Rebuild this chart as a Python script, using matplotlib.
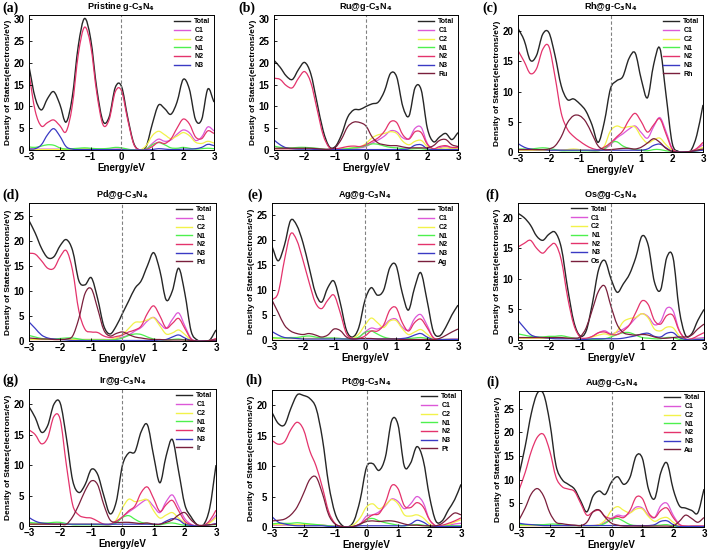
import numpy as np
import matplotlib.pyplot as plt
from matplotlib.path import Path
from matplotlib.patches import PathPatch
from matplotlib.lines import Line2D

plt.rcParams['font.family'] = ['Liberation Sans', 'DejaVu Sans']
plt.rcParams['font.weight'] = 'bold'
plt.rcParams['axes.titleweight'] = 'bold'
plt.rcParams['axes.labelweight'] = 'bold'
plt.rcParams['mathtext.default'] = 'bf'

# energy grid (eV)
E = np.round(np.linspace(-3, 3, 31), 1)

# (a) pristine g-C3N4
tot_a = [19.2, 12.0, 9.2, 11.8, 13.4, 10.5, 6.4, 12.0, 24.0, 30.2, 25.5, 14.0, 6.6, 7.6, 14.4, 14.6, 7.5, 1.5, 0.0, 0.8, 6.0, 10.3, 9.5, 8.2, 11.0, 16.2, 14.0, 7.0, 7.0, 14.0, 11.0]
c1_a = [0.3, 0.2, 0.2, 0.2, 0.2, 0.2, 0.2, 0.2, 0.2, 0.3, 0.3, 0.2, 0.2, 0.2, 0.2, 0.2, 0.1, 0.0, 0.0, 0.2, 1.5, 2.5, 2.0, 2.3, 3.6, 4.6, 4.0, 2.2, 3.0, 5.3, 4.4]
c2_a = [0.2, 0.1, 0.1, 0.1, 0.1, 0.1, 0.1, 0.1, 0.2, 0.3, 0.3, 0.2, 0.1, 0.1, 0.1, 0.1, 0.0, 0.0, 0.0, 1.0, 3.3, 4.3, 3.5, 2.6, 3.2, 4.0, 3.3, 1.8, 1.5, 2.0, 1.6]
n1_a = [0.7, 0.6, 0.9, 1.2, 1.1, 0.5, 0.2, 0.3, 0.4, 0.5, 0.4, 0.3, 0.3, 0.4, 0.6, 0.5, 0.2, 0.0, 0.0, 0.2, 1.2, 1.7, 1.2, 0.5, 0.4, 0.6, 0.4, 0.2, 0.3, 0.4, 0.3]
n2_a = [17.5, 9.0, 5.5, 6.3, 6.9, 5.6, 4.2, 10.0, 22.0, 28.2, 24.0, 13.0, 5.8, 7.0, 13.4, 13.6, 7.0, 1.3, 0.0, 0.1, 0.8, 1.8, 1.5, 2.5, 5.0, 7.1, 6.0, 3.0, 2.6, 4.4, 3.8]
n3_a = [0.2, 0.3, 1.2, 3.5, 4.9, 3.2, 0.8, 0.2, 0.1, 0.1, 0.1, 0.1, 0.1, 0.1, 0.1, 0.1, 0.0, 0.0, 0.0, 0.0, 0.1, 0.3, 0.2, 0.1, 0.1, 0.2, 0.2, 0.3, 0.6, 1.3, 1.0]

# (b) Ru
tot_b = [20.6, 19.0, 17.0, 16.2, 18.5, 20.1, 17.5, 11.0, 4.5, 0.8, 0.8, 3.5, 7.5, 9.2, 9.3, 10.0, 10.6, 11.0, 13.5, 17.6, 16.8, 10.0, 7.8, 14.3, 13.8, 5.0, 1.9, 3.0, 3.8, 2.4, 4.0]
c1_b = [0.2, 0.2, 0.2, 0.2, 0.2, 0.2, 0.2, 0.2, 0.1, 0.1, 0.1, 0.2, 0.3, 0.4, 0.5, 0.8, 1.6, 2.3, 3.2, 4.4, 4.2, 2.8, 2.6, 5.0, 5.2, 1.5, 0.2, 0.5, 0.8, 0.4, 0.4]
c2_b = [0.3, 0.3, 0.3, 0.3, 0.3, 0.3, 0.3, 0.2, 0.1, 0.1, 0.1, 0.2, 0.4, 0.5, 0.7, 1.5, 2.8, 3.5, 3.8, 4.2, 3.8, 2.0, 1.2, 2.0, 2.2, 0.8, 0.2, 0.3, 0.5, 0.3, 0.3]
n1_b = [0.9, 0.6, 0.5, 0.5, 0.6, 0.6, 0.5, 0.4, 0.2, 0.1, 0.1, 0.2, 0.3, 0.5, 0.6, 1.0, 1.4, 1.3, 0.9, 0.6, 0.5, 0.3, 0.2, 0.3, 0.3, 0.1, 0.1, 0.1, 0.1, 0.1, 0.1]
n2_b = [16.5, 16.2, 14.8, 14.3, 16.5, 18.0, 15.5, 9.5, 3.5, 0.6, 0.3, 0.5, 0.8, 0.9, 0.8, 1.2, 2.0, 2.8, 4.3, 6.5, 6.3, 3.5, 2.5, 4.2, 4.0, 1.3, 0.3, 0.8, 1.0, 0.6, 0.6]
n3_b = [2.3, 1.2, 0.5, 0.3, 0.2, 0.2, 0.2, 0.1, 0.1, 0.1, 0.1, 0.1, 0.1, 0.1, 0.1, 0.1, 0.1, 0.1, 0.1, 0.1, 0.1, 0.1, 0.3, 1.1, 1.2, 0.3, 0.1, 0.1, 0.1, 0.1, 0.1]
m_b = [0.4, 0.4, 0.4, 0.4, 0.4, 0.4, 0.4, 0.3, 0.2, 0.2, 0.6, 2.5, 5.3, 6.4, 6.3, 5.5, 3.0, 1.6, 1.2, 1.0, 1.0, 0.7, 0.5, 0.5, 0.5, 0.5, 1.0, 2.2, 2.4, 1.2, 0.8]

# (c) Rh
tot_c = [20.5, 18.5, 15.2, 16.0, 19.5, 19.8, 16.0, 11.0, 8.7, 8.8, 8.0, 6.8, 4.5, 1.6, 5.0, 10.5, 11.8, 12.5, 15.5, 16.4, 12.0, 9.0, 14.5, 17.2, 9.5, 1.5, 0.1, 0.0, 0.2, 2.8, 7.8]
c1_c = [0.3, 0.3, 0.3, 0.3, 0.3, 0.3, 0.3, 0.3, 0.3, 0.3, 0.3, 0.3, 0.2, 0.2, 0.5, 1.2, 2.3, 3.0, 3.8, 4.3, 3.2, 2.3, 4.2, 5.7, 3.4, 0.6, 0.0, 0.0, 0.1, 0.5, 1.2]
c2_c = [0.3, 0.3, 0.3, 0.3, 0.3, 0.3, 0.3, 0.3, 0.4, 0.5, 0.4, 0.3, 0.3, 0.3, 1.0, 3.5, 4.3, 4.0, 4.2, 4.1, 2.5, 1.5, 2.0, 2.3, 1.2, 0.3, 0.0, 0.0, 0.1, 0.3, 0.8]
n1_c = [0.5, 0.5, 0.5, 0.6, 0.7, 0.6, 0.4, 0.2, 0.2, 0.2, 0.2, 0.2, 0.2, 0.2, 0.5, 1.5, 1.7, 1.0, 0.6, 0.4, 0.3, 0.2, 0.4, 0.4, 0.2, 0.1, 0.0, 0.0, 0.1, 0.2, 0.4]
n2_c = [16.8, 15.0, 13.0, 13.8, 17.0, 17.5, 12.5, 6.5, 3.8, 2.6, 1.8, 1.1, 0.6, 0.4, 0.8, 1.5, 2.5, 3.5, 5.3, 6.4, 5.0, 3.3, 4.5, 5.5, 3.0, 0.5, 0.0, 0.0, 0.1, 0.6, 1.6]
n3_c = [1.4, 0.8, 0.5, 0.4, 0.4, 0.3, 0.3, 0.3, 0.3, 0.3, 0.3, 0.3, 0.3, 0.3, 0.3, 0.3, 0.3, 0.3, 0.3, 0.3, 0.3, 0.5, 1.1, 1.3, 0.7, 0.1, 0.0, 0.0, 0.1, 0.2, 0.3]
m_c = [0.4, 0.4, 0.4, 0.4, 0.4, 0.5, 1.0, 2.5, 4.8, 6.0, 6.0, 5.0, 3.0, 1.0, 0.4, 0.4, 0.5, 0.6, 0.6, 0.5, 0.8, 1.5, 2.2, 1.6, 0.6, 0.1, 0.0, 0.0, 0.1, 0.3, 0.5]

# (d) Pd
tot_d = [24.0, 21.5, 18.5, 16.6, 16.8, 19.0, 20.2, 18.0, 12.0, 11.2, 12.6, 8.5, 3.0, 1.4, 3.0, 5.5, 8.0, 10.5, 12.0, 15.0, 17.6, 14.0, 8.2, 10.0, 14.5, 9.5, 2.0, 0.2, 0.0, 0.2, 2.2]
c1_d = [0.3, 0.3, 0.3, 0.3, 0.3, 0.3, 0.3, 0.3, 0.3, 0.3, 0.3, 0.3, 0.3, 0.3, 0.5, 0.8, 1.2, 2.0, 2.7, 4.0, 4.7, 3.5, 2.5, 4.3, 5.6, 3.0, 0.5, 0.0, 0.0, 0.1, 0.3]
c2_d = [0.3, 0.3, 0.3, 0.3, 0.3, 0.3, 0.3, 0.3, 0.3, 0.3, 0.3, 0.3, 0.3, 0.3, 0.6, 1.3, 2.5, 3.7, 3.8, 4.2, 4.6, 3.0, 1.4, 1.6, 2.2, 1.3, 0.2, 0.0, 0.0, 0.1, 0.2]
n1_d = [1.1, 0.8, 0.5, 0.4, 0.4, 0.5, 0.6, 0.6, 0.4, 0.2, 0.2, 0.2, 0.2, 0.2, 0.3, 0.6, 1.1, 1.4, 1.3, 0.8, 0.4, 0.2, 0.2, 0.3, 0.4, 0.2, 0.1, 0.0, 0.0, 0.1, 0.1]
n2_d = [17.5, 17.3, 16.0, 14.5, 14.5, 16.8, 18.0, 14.0, 6.0, 2.3, 1.8, 1.7, 1.0, 0.7, 0.9, 1.2, 1.8, 2.2, 3.0, 5.5, 7.0, 5.0, 2.6, 3.5, 4.5, 2.5, 0.4, 0.0, 0.0, 0.1, 0.5]
n3_d = [3.8, 2.5, 1.2, 0.6, 0.4, 0.3, 0.2, 0.1, 0.1, 0.1, 0.1, 0.1, 0.1, 0.1, 0.1, 0.1, 0.1, 0.1, 0.1, 0.1, 0.1, 0.2, 0.3, 0.8, 1.2, 0.6, 0.1, 0.0, 0.0, 0.1, 0.1]
m_d = [0.6, 0.5, 0.4, 0.4, 0.3, 0.3, 0.4, 1.0, 4.5, 9.5, 10.4, 6.5, 2.2, 1.0, 1.5, 1.8, 1.3, 0.8, 0.6, 0.4, 0.3, 0.3, 0.2, 0.2, 0.2, 0.2, 0.1, 0.0, 0.0, 0.1, 0.2]

# (e) Ag
tot_e = [18.8, 15.9, 19.0, 24.0, 23.0, 19.5, 14.5, 9.5, 7.6, 10.5, 11.8, 7.5, 2.0, 0.6, 2.5, 8.0, 10.5, 9.0, 10.0, 14.5, 15.0, 9.5, 6.0, 10.5, 13.5, 8.0, 1.8, 0.8, 2.5, 5.0, 7.0]
c1_e = [0.3, 0.3, 0.3, 0.3, 0.3, 0.3, 0.3, 0.3, 0.3, 0.3, 0.3, 0.3, 0.2, 0.2, 0.5, 1.6, 2.4, 2.2, 2.8, 4.0, 4.2, 2.6, 2.0, 4.3, 5.1, 3.0, 0.5, 0.1, 0.1, 0.2, 0.2]
c2_e = [0.3, 0.3, 0.3, 0.3, 0.3, 0.3, 0.3, 0.3, 0.3, 0.3, 0.3, 0.3, 0.2, 0.3, 1.2, 3.0, 4.4, 3.5, 2.5, 3.8, 3.9, 2.3, 1.1, 1.6, 2.1, 1.2, 0.2, 0.1, 0.1, 0.1, 0.1]
n1_e = [0.5, 0.4, 0.4, 0.5, 0.5, 0.7, 0.8, 0.6, 0.4, 0.4, 0.4, 0.3, 0.2, 0.2, 0.6, 1.5, 1.8, 1.2, 0.6, 0.3, 0.2, 0.2, 0.3, 0.4, 0.5, 0.3, 0.1, 0.1, 0.1, 0.1, 0.1]
n2_e = [8.0, 9.5, 16.0, 21.3, 20.0, 16.0, 11.5, 7.5, 6.3, 8.0, 9.0, 5.5, 1.3, 0.3, 0.3, 0.8, 1.8, 1.8, 3.0, 6.0, 6.5, 3.5, 1.8, 3.5, 4.2, 2.5, 0.5, 0.1, 0.1, 0.1, 0.1]
n3_e = [1.7, 1.0, 0.5, 0.4, 0.3, 0.2, 0.2, 0.2, 0.2, 0.2, 0.2, 0.2, 0.2, 0.2, 0.2, 0.2, 0.2, 0.2, 0.2, 0.2, 0.2, 0.3, 0.5, 1.0, 1.3, 0.6, 0.1, 0.1, 0.1, 0.1, 0.1]
m_e = [8.0, 5.5, 3.0, 1.8, 1.3, 1.1, 1.3, 1.0, 0.6, 1.0, 2.2, 1.9, 0.6, 0.2, 0.3, 0.3, 0.3, 0.2, 0.2, 0.2, 0.2, 0.1, 0.1, 0.1, 0.1, 0.1, 0.1, 0.3, 0.9, 1.6, 2.2]

# (f) Os
tot_f = [20.7, 20.0, 18.8, 17.0, 16.3, 17.3, 17.6, 15.0, 8.5, 3.0, 0.7, 1.5, 6.0, 11.5, 13.0, 10.0, 7.8, 9.2, 10.8, 13.5, 17.0, 15.5, 9.5, 8.2, 13.5, 13.5, 5.0, 0.8, 1.0, 3.2, 5.0]
c1_f = [0.3, 0.3, 0.3, 0.3, 0.3, 0.3, 0.3, 0.3, 0.3, 0.2, 0.1, 0.2, 0.6, 1.2, 1.5, 1.0, 1.3, 1.8, 2.5, 3.6, 4.3, 3.8, 2.5, 3.0, 5.2, 4.8, 1.6, 0.2, 0.2, 0.3, 0.4]
c2_f = [0.3, 0.3, 0.3, 0.3, 0.3, 0.3, 0.3, 0.3, 0.3, 0.2, 0.1, 0.2, 0.5, 0.8, 1.0, 0.8, 1.5, 3.0, 3.5, 3.7, 4.3, 3.6, 1.8, 1.5, 2.1, 2.0, 0.7, 0.1, 0.1, 0.1, 0.1]
n1_f = [1.0, 0.8, 0.6, 0.5, 0.5, 0.6, 0.6, 0.7, 0.5, 0.3, 0.1, 0.1, 0.1, 0.1, 0.2, 0.5, 0.9, 1.2, 1.2, 0.8, 0.4, 0.3, 0.2, 0.2, 0.4, 0.4, 0.1, 0.0, 0.0, 0.1, 0.1]
n2_f = [15.2, 15.8, 16.3, 15.0, 14.2, 15.2, 15.7, 13.0, 7.0, 2.5, 0.5, 0.3, 0.6, 1.2, 1.3, 0.9, 0.9, 1.5, 2.5, 4.5, 6.4, 5.8, 3.2, 2.6, 4.0, 4.0, 1.5, 0.2, 0.2, 0.7, 1.2]
n3_f = [3.2, 2.0, 0.9, 0.5, 0.4, 0.3, 0.2, 0.2, 0.2, 0.2, 0.1, 0.1, 0.2, 0.2, 0.2, 0.2, 0.2, 0.3, 0.5, 0.7, 1.0, 1.1, 0.6, 0.5, 1.1, 1.2, 0.4, 0.1, 0.0, 0.1, 0.1]
m_f = [0.4, 0.4, 0.4, 0.4, 0.4, 0.4, 0.4, 0.4, 0.3, 0.3, 0.5, 2.0, 5.0, 8.0, 8.8, 5.5, 2.5, 1.2, 0.9, 0.8, 0.9, 0.8, 0.5, 0.3, 0.3, 0.4, 0.5, 0.5, 0.8, 1.8, 2.6]

# (g) Ir
tot_g = [19.6, 17.8, 15.4, 16.5, 20.0, 20.2, 14.5, 7.5, 5.5, 6.8, 9.3, 8.5, 5.0, 2.0, 4.0, 10.0, 12.0, 12.2, 15.5, 16.6, 11.5, 7.1, 11.5, 14.2, 9.0, 3.5, 1.5, 0.2, 0.2, 3.0, 10.0]
c1_g = [0.3, 0.3, 0.3, 0.3, 0.3, 0.3, 0.3, 0.3, 0.3, 0.3, 0.3, 0.3, 0.2, 0.2, 0.6, 1.5, 2.3, 3.0, 3.8, 4.3, 3.2, 2.2, 4.0, 5.1, 3.2, 1.2, 0.3, 0.0, 0.1, 0.6, 1.8]
c2_g = [0.3, 0.3, 0.3, 0.3, 0.3, 0.3, 0.3, 0.3, 0.3, 0.3, 0.3, 0.3, 0.3, 0.3, 1.0, 3.0, 4.4, 4.0, 4.2, 4.3, 2.5, 1.3, 1.8, 2.2, 1.3, 0.5, 0.1, 0.0, 0.1, 0.5, 1.4]
n1_g = [0.6, 0.5, 0.5, 0.5, 0.6, 0.6, 0.4, 0.2, 0.2, 0.2, 0.2, 0.2, 0.2, 0.2, 0.5, 1.4, 1.7, 1.1, 0.6, 0.4, 0.2, 0.2, 0.4, 0.5, 0.3, 0.1, 0.1, 0.0, 0.1, 0.2, 0.2]
n2_g = [15.8, 15.0, 13.5, 14.5, 18.0, 17.5, 10.0, 3.5, 1.8, 1.4, 1.3, 0.8, 0.3, 0.3, 0.8, 1.5, 2.5, 3.3, 5.5, 6.4, 4.5, 2.4, 3.5, 4.2, 2.5, 0.8, 0.2, 0.0, 0.1, 0.9, 2.6]
n3_g = [1.4, 0.8, 0.5, 0.4, 0.3, 0.3, 0.3, 0.3, 0.3, 0.3, 0.3, 0.3, 0.3, 0.3, 0.3, 0.3, 0.3, 0.3, 0.3, 0.3, 0.3, 0.3, 0.8, 1.2, 1.0, 0.3, 0.1, 0.0, 0.1, 0.2, 0.4]
m_g = [0.3, 0.3, 0.3, 0.3, 0.3, 0.3, 0.3, 1.5, 3.5, 5.8, 7.4, 6.8, 3.5, 1.0, 0.6, 0.6, 0.6, 0.5, 0.4, 0.5, 0.3, 0.3, 0.6, 1.0, 1.8, 2.2, 1.0, 0.2, 0.1, 0.2, 0.3]

# (h) Pt
tot_h = [18.8, 17.0, 16.8, 19.5, 21.7, 21.6, 21.1, 19.5, 14.5, 7.0, 2.3, 0.4, 0.0, 1.0, 4.5, 9.8, 10.4, 9.3, 11.5, 17.5, 16.8, 10.0, 10.5, 13.2, 11.0, 5.0, 1.0, 1.0, 2.8, 4.5, 7.0]
c1_h = [0.3, 0.3, 0.3, 0.3, 0.3, 0.3, 0.3, 0.3, 0.3, 0.2, 0.1, 0.0, 0.0, 0.1, 0.5, 1.8, 2.0, 2.5, 3.5, 4.6, 4.2, 3.0, 3.8, 5.0, 4.0, 1.2, 0.2, 0.2, 0.3, 0.5, 0.6]
c2_h = [0.4, 0.4, 0.4, 0.4, 0.4, 0.4, 0.4, 0.4, 0.3, 0.2, 0.1, 0.0, 0.0, 0.4, 1.5, 3.3, 3.8, 3.0, 3.6, 4.5, 3.8, 2.0, 1.8, 2.0, 1.5, 0.5, 0.1, 0.2, 0.4, 0.8, 1.2]
n1_h = [0.5, 0.6, 0.6, 0.6, 0.7, 0.6, 0.5, 0.4, 0.3, 0.2, 0.1, 0.0, 0.0, 0.1, 0.4, 1.2, 1.4, 1.0, 0.7, 0.5, 0.3, 0.2, 0.3, 0.4, 0.3, 0.1, 0.1, 0.1, 0.2, 0.2, 0.2]
n2_h = [14.2, 13.6, 14.0, 16.0, 17.2, 16.0, 12.5, 10.0, 6.5, 2.5, 0.6, 0.1, 0.0, 0.1, 0.5, 1.3, 2.0, 2.2, 4.0, 6.8, 6.3, 3.5, 3.2, 4.0, 3.3, 1.2, 0.2, 0.3, 0.6, 1.0, 1.5]
n3_h = [1.7, 0.8, 0.5, 0.3, 0.2, 0.2, 0.2, 0.2, 0.2, 0.1, 0.1, 0.0, 0.0, 0.1, 0.2, 0.2, 0.2, 0.2, 0.2, 0.2, 0.2, 0.2, 0.5, 1.1, 0.8, 0.2, 0.1, 0.1, 0.1, 0.1, 0.1]
m_h = [1.0, 1.1, 1.3, 2.0, 3.3, 5.5, 7.8, 8.2, 5.5, 2.0, 0.5, 0.1, 0.0, 0.1, 0.5, 0.9, 1.0, 0.9, 1.0, 1.0, 0.8, 0.5, 0.3, 0.3, 0.2, 0.2, 0.2, 0.6, 1.5, 2.3, 2.0]

# (i) Au
tot_i = [11.0, 17.0, 24.0, 28.3, 28.0, 22.0, 13.0, 10.0, 9.0, 8.0, 5.5, 3.2, 6.5, 7.6, 6.9, 9.5, 10.6, 9.0, 10.5, 15.0, 14.5, 8.0, 6.0, 11.5, 13.5, 8.0, 4.5, 4.0, 3.5, 3.0, 8.0]
c1_i = [0.3, 0.3, 0.3, 0.3, 0.3, 0.3, 0.3, 0.3, 0.3, 0.3, 0.3, 0.3, 0.3, 0.5, 1.0, 1.8, 2.5, 2.3, 3.0, 4.2, 4.0, 2.5, 2.0, 4.5, 5.0, 2.5, 0.6, 0.2, 0.2, 0.2, 0.2]
c2_i = [0.3, 0.3, 0.3, 0.3, 0.3, 0.3, 0.3, 0.3, 0.3, 0.3, 0.3, 0.3, 0.3, 0.5, 1.5, 3.5, 4.3, 3.5, 3.0, 3.8, 3.8, 2.2, 1.2, 1.8, 2.0, 1.0, 0.2, 0.1, 0.1, 0.1, 0.1]
n1_i = [0.5, 0.5, 0.5, 0.5, 0.5, 0.6, 0.6, 0.4, 0.3, 0.3, 0.3, 0.3, 0.3, 0.3, 0.8, 1.6, 1.8, 1.2, 0.5, 0.3, 0.2, 0.2, 0.3, 0.4, 0.5, 0.2, 0.1, 0.1, 0.1, 0.1, 0.1]
n2_i = [7.8, 11.5, 16.0, 19.0, 19.5, 16.0, 10.5, 8.5, 8.0, 7.5, 5.0, 2.5, 3.2, 3.5, 2.2, 1.8, 2.2, 2.0, 3.5, 6.3, 6.0, 3.0, 2.0, 3.5, 4.0, 2.0, 0.5, 0.2, 0.2, 0.2, 0.2]
n3_i = [0.8, 0.6, 0.5, 0.4, 0.3, 0.3, 0.3, 0.3, 0.3, 0.3, 0.3, 0.3, 0.3, 0.3, 0.3, 0.3, 0.3, 0.3, 0.3, 0.3, 0.3, 0.3, 0.5, 1.2, 1.3, 0.5, 0.1, 0.1, 0.1, 0.1, 0.1]
m_i = [1.5, 4.0, 7.0, 8.1, 6.5, 3.0, 1.0, 0.7, 0.5, 0.4, 0.3, 1.0, 3.2, 3.6, 2.0, 0.8, 0.4, 0.2, 0.2, 0.2, 0.2, 0.2, 0.2, 0.2, 0.2, 0.2, 1.2, 2.5, 1.8, 1.0, 2.0]

letters = ['(a)', '(b)', '(c)', '(d)', '(e)', '(f)', '(g)', '(h)', '(i)']
metals = [None, 'Ru', 'Rh', 'Pd', 'Ag', 'Os', 'Ir', 'Pt', 'Au']
ytops = [31, 31, 22.7, 27.5, 27.5, 22.4, 22.5, 22.5, 28.7]

panels = [
    (tot_a, c1_a, c2_a, n1_a, n2_a, n3_a, None),
    (tot_b, c1_b, c2_b, n1_b, n2_b, n3_b, m_b),
    (tot_c, c1_c, c2_c, n1_c, n2_c, n3_c, m_c),
    (tot_d, c1_d, c2_d, n1_d, n2_d, n3_d, m_d),
    (tot_e, c1_e, c2_e, n1_e, n2_e, n3_e, m_e),
    (tot_f, c1_f, c2_f, n1_f, n2_f, n3_f, m_f),
    (tot_g, c1_g, c2_g, n1_g, n2_g, n3_g, m_g),
    (tot_h, c1_h, c2_h, n1_h, n2_h, n3_h, m_h),
    (tot_i, c1_i, c2_i, n1_i, n2_i, n3_i, m_i),
]

names = ['Total', 'C1', 'C2', 'N1', 'N2', 'N3']
colors = ['#262626', '#dc58d8', '#f2f24a', '#4ef04e', '#e4336c', '#3a3ac4', '#7a1f3c']


def spline_path(x, y):
    # smooth (spline-connected) line through every data point, like Origin
    pts = np.column_stack([np.asarray(x, float), np.asarray(y, float)])
    ext = np.vstack([2 * pts[0] - pts[1], pts, 2 * pts[-1] - pts[-2]])
    verts = [pts[0]]
    codes = [Path.MOVETO]
    for i in range(len(pts) - 1):
        p0, p1, p2, p3 = ext[i], ext[i + 1], ext[i + 2], ext[i + 3]
        verts += [p1 + (p2 - p0) / 6, p2 - (p3 - p1) / 6, p2]
        codes += [Path.CURVE4] * 3
    return Path(verts, codes)


# axes boxes in pixels: left, right, top, bottom
W, H = 709, 552
boxes = [(29, 214, 15, 150), (274, 458, 15, 150), (518, 703, 15, 152),
         (29, 216, 203, 341), (272, 458, 203, 340), (518, 704, 203, 340),
         (29, 216, 389, 526), (272, 461, 390, 527), (519, 704, 391, 527)]
letter_xy = [(2, 8), (238, 8), (482, 8), (2, 195), (247, 195), (485, 195),
             (2, 380), (245, 380), (486, 382)]

fig = plt.figure(figsize=(W / 100, H / 100), dpi=100)

for k in range(9):
    l, r, t, b = boxes[k]
    ax = fig.add_axes([l / W, 1 - b / H, (r - l) / W, (b - t) / H])
    series = panels[k]
    labels = names + ([metals[k]] if metals[k] else [])
    handles = []
    for j, lab in enumerate(labels):
        lw = 1.0 if j == 0 else 0.9
        ax.add_patch(PathPatch(spline_path(E, series[j]), fill=False,
                               edgecolor=colors[j], lw=lw))
        handles.append(Line2D([], [], color=colors[j], lw=1.0, label=lab))
    ax.axvline(0, color='#808080', ls=(0, (3, 2)), lw=0.8)
    ax.set_xlim(-3, 3)
    ax.set_ylim(0, ytops[k])
    ax.set_xticks(np.arange(-3, 4, 1))
    ax.set_yticks(np.arange(0, ytops[k], 5))
    ax.tick_params(labelsize=7, length=2.5, width=0.6, direction='in')
    ax.tick_params(axis='x', pad=1.5)
    ax.tick_params(axis='y', pad=3.5)
    for s in ax.spines.values():
        s.set_linewidth(0.7)
    ax.set_xlabel('Energy/eV', fontsize=7, labelpad=1)
    ax.set_ylabel('Density of States(electrons/eV)', fontsize=6, labelpad=1)
    if metals[k]:
        ttl = metals[k] + '@g-C$_3$N$_4$'
    else:
        ttl = 'Pristine g-C$_3$N$_4$'
    ax.set_title(ttl, fontsize=6.5, pad=4)
    if k == 5:
        ax.legend(handles=handles, loc='upper left', bbox_to_anchor=(0.27, 1.0),
                  fontsize=5, frameon=False, handlelength=2.3, labelspacing=0.25,
                  handletextpad=0.6, borderaxespad=0.1, borderpad=0.3)
    else:
        ax.legend(handles=handles, loc='upper right', fontsize=5, frameon=False,
                  handlelength=2.3, labelspacing=0.25, handletextpad=0.6,
                  borderaxespad=0.1, borderpad=0.4)
    lx, ly = letter_xy[k]
    fig.text(lx / W, 1 - ly / H, letters[k], fontsize=10, fontweight='bold',
             family='Liberation Serif', va='center', ha='left')

fig.savefig('out.png', dpi=100)
